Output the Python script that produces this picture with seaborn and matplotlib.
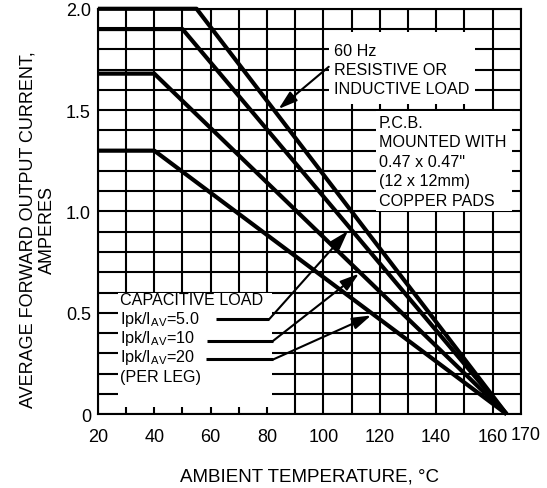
import numpy as np
import pandas as pd
import seaborn as sns
from matplotlib import pyplot as plt
from matplotlib.patches import Rectangle
from matplotlib.transforms import ScaledTranslation

# derating curves: flat at rated current up to the knee, then linear to zero
curve_names = ['60 Hz resistive', 'Ipk/IAV=5.0', 'Ipk/IAV=10', 'Ipk/IAV=20']
rated_current = [2.0, 1.9, 1.68, 1.3]
knee_temp = [55, 50, 40, 40]
start_temp = 20
zero_temp = 165

x_ticks = [20, 40, 60, 80, 100, 120, 140, 160, 170]
y_ticks = [0, 0.5, 1.0, 1.5, 2.0]
y_tick_labels = ['0', '0.5', '1.0', '1.5', '2.0']

cap_labels = ['CAPACITIVE LOAD', r'Ipk/I$\mathregular{_{AV}}$=5.0',
              r'Ipk/I$\mathregular{_{AV}}$=10', r'Ipk/I$\mathregular{_{AV}}$=20', '(PER LEG)']
resistive_label = '60 Hz\nRESISTIVE OR\nINDUCTIVE LOAD'
pcb_label = 'P.C.B.\nMOUNTED WITH\n0.47 x 0.47"\n(12 x 12mm)\nCOPPER PADS'

rows = []
for name, amps, knee in zip(curve_names, rated_current, knee_temp):
    rows.append((name, start_temp, amps))
    rows.append((name, knee, amps))
    rows.append((name, zero_temp, 0.0))
df = pd.DataFrame(rows, columns=['curve', 'temp', 'current'])

sns.set_theme(style='white')
plt.rcParams['font.family'] = ['Liberation Sans', 'DejaVu Sans']
plt.rcParams['mathtext.fontset'] = 'custom'
plt.rcParams['mathtext.rm'] = 'Liberation Sans'

fig = plt.figure(figsize=(5.47, 4.89), dpi=100)
ax = fig.add_axes([0.179, 0.151, 0.773, 0.829])

sns.lineplot(data=df, x='temp', y='current', hue='curve', palette=['black'] * 4,
             linewidth=3.0, legend=False, ax=ax, zorder=3, sort=False)
for line in ax.lines:
    line.set_clip_on(False)
    line.set_solid_capstyle('butt')

ax.set_xlim(20, 170)
ax.set_ylim(0, 2.0)
ax.set_xticks(x_ticks)
ax.set_xticklabels([str(t) for t in x_ticks])
ax.set_yticks(y_ticks)
ax.set_yticklabels(y_tick_labels)
ax.set_xticks(np.arange(20, 171, 10), minor=True)
ax.set_yticks(np.arange(0, 2.01, 0.1), minor=True)
ax.grid(which='minor', color='black', linewidth=1.5)
ax.grid(which='major', color='black', linewidth=1.5)
ax.set_axisbelow(True)
ax.tick_params(which='both', length=0, labelsize=13, colors='black')
ax.tick_params(axis='x', pad=10)
ax.tick_params(axis='y', pad=5)
for s in ax.spines.values():
    s.set_color('black')
    s.set_linewidth(1.5)

# nudge the crowded last label off the 160 label
last = ax.get_xticklabels()[-1]
last.set_transform(last.get_transform() + ScaledTranslation(0.05, 0.02, fig.dpi_scale_trans))

ax.set_xlabel('AMBIENT TEMPERATURE, °C', fontsize=13.5, color='black', labelpad=16)
ax.set_ylabel('AVERAGE FORWARD OUTPUT CURRENT,\nAMPERES', fontsize=13, color='black',
              labelpad=7, linespacing=1.2, y=0.457)

# white boxes knocking out the grid behind the notes
for x0, y0, w, h in [(27.2, 0.035, 54.4, 0.565), (102.0, 1.53, 51.6, 0.355),
                     (118.8, 1.0, 48.0, 0.495)]:
    ax.add_patch(Rectangle((x0, y0), w, h, facecolor='white', edgecolor='none', zorder=1))

txt = dict(fontsize=11.6, color='black', zorder=4, va='center', ha='left')
ax.text(103.8, 1.70, resistive_label, linespacing=1.3, **txt)
ax.text(119.7, 1.247, pcb_label, linespacing=1.38, **txt)
cap_y = [0.568, 0.474, 0.378, 0.283, 0.188]
for label, y in zip(cap_labels, cap_y):
    ax.text(27.8, y, label, **txt)

arrow = dict(arrowstyle='-|>,head_length=0.95,head_width=0.3', color='black', lw=1.5,
             shrinkA=0, shrinkB=0)
ax.annotate('', xy=(84.1, 1.506), xytext=(101.9, 1.714), arrowprops=arrow, zorder=4)

lead_start = [62.0, 58.6, 58.2]
lead_y = [0.469, 0.36, 0.27]
lead_bend = [80.8, 82.0, 82.2]
tips = [(108.7, 0.904), (112.6, 0.693), (116.9, 0.487)]
for xs, y, xb, tip in zip(lead_start, lead_y, lead_bend, tips):
    ax.plot([xs, xb], [y, y], color='black', lw=2.2, zorder=4, solid_capstyle='butt')
    ax.annotate('', xy=tip, xytext=(xb, y), arrowprops=arrow, zorder=4)

fig.savefig('out.png', dpi=100)
